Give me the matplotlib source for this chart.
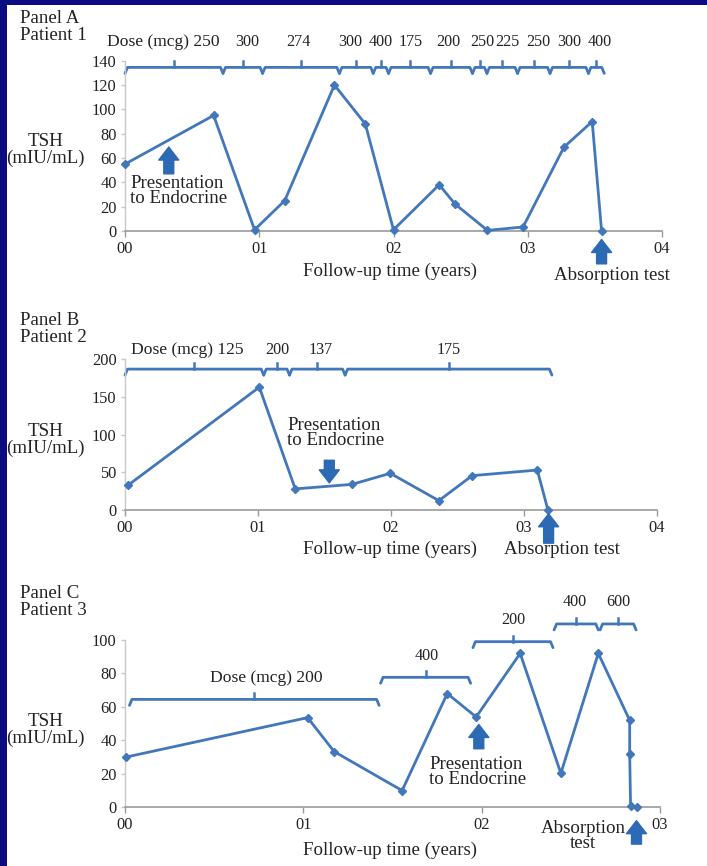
import matplotlib
matplotlib.use("Agg")
import matplotlib.pyplot as plt
from matplotlib.patches import Rectangle

# ---------------- data ----------------
# Panel A (Patient 1)
a_time = [0.0, 0.66, 0.965, 1.19, 1.56, 1.79, 2.0, 2.34, 2.46, 2.70, 2.965, 3.27, 3.48, 3.55]
a_tsh = [55, 95, 1, 25, 120, 88, 1, 38, 22, 0.5, 3.3, 69, 90, 0]
a_dose_bounds = [0.0, 0.73, 1.025, 1.597, 1.849, 1.963, 2.276, 2.588, 2.696, 2.924, 3.166, 3.452, 3.57]
a_doses = ["250", "300", "274", "300", "400", "175", "200", "250", "225", "250", "300", "400"]

# Panel B (Patient 2)
b_time = [0.024, 1.01, 1.28, 1.706, 1.995, 2.36, 2.61, 3.10, 3.18]
b_tsh = [33, 163, 28, 34, 48.7, 12.4, 45.6, 53, 0]
b_dose_bounds = [0.0, 1.043, 1.237, 1.655, 3.21]
b_doses = ["125", "200", "137", "175"]

# Panel C (Patient 3)
c_time = [0.005, 1.024, 1.173, 1.554, 1.807, 1.969, 2.216, 2.444, 2.654, 2.83, 2.83, 2.835, 2.87]
c_tsh = [30, 53.6, 33.3, 10, 68, 54, 92, 20.3, 92, 52, 32, 0.8, 0]
c_dose_start = [0.025, 1.433, 1.951, 2.406, 2.664]
c_dose_end = [1.425, 1.938, 2.40, 2.654, 2.866]
c_dose_level = [64.5, 77.7, 99, 109.6, 109.6]
c_doses = ["200", "400", "200", "400", "600"]

x_ticklabels = ["00", "01", "02", "03", "04"]

# label x-positions (layout, in years)
a_label_x = [0.283, 0.908, 1.294, 1.681, 1.906, 2.124, 2.41, 2.662, 2.847, 3.082, 3.31, 3.536]
b_label_x = [0.47, 1.146, 1.474, 2.43]
c_label_x = [0.79, 1.693, 2.178, 2.52, 2.765]

# ---------------- style ----------------
W, H = 707, 866
BLUE_BG = "#0b0b84"
LINE = "#4277bb"
ARROW = "#2d6ab4"
TXT = "#222222"
FONT = "Liberation Serif"
FS = 13.6
DFS = 11.6     # dose number size
DFS1 = 12.6    # first dose label ("Dose (mcg) ...")
plt.rcParams["font.family"] = [FONT, "DejaVu Serif"]

fig = plt.figure(figsize=(W / 100, H / 100), dpi=100)
fig.patch.set_facecolor(BLUE_BG)
fig.add_artist(Rectangle((7 / W, 0), (W - 7) / W, (H - 5) / H, transform=fig.transFigure,
                         facecolor="white", edgecolor="none", zorder=0))


def px(x, y):
    return x / W, 1 - y / H


def ftext(x, y, s, **kw):
    kw.setdefault("fontsize", FS)
    kw.setdefault("color", TXT)
    fig.text(*px(x, y), s, **kw)


def make_axes(x0, x1, ytop, ybot):
    l, b = x0 / W, 1 - ybot / H
    return fig.add_axes([l, b, (x1 - x0) / W, (ybot - ytop) / H])


def style_axes(ax, xmax, ymax, ystep):
    ax.set_xlim(0, xmax)
    ax.set_ylim(0, ymax)
    ax.set_facecolor("none")
    for s in ["top", "right"]:
        ax.spines[s].set_visible(False)
    ax.spines["bottom"].set_color("#9a9a9a")
    ax.spines["bottom"].set_linewidth(1.2)
    ax.spines["left"].set_color("#c8c8c8")
    ax.spines["left"].set_linewidth(1.0)
    ax.set_xticks(range(0, xmax + 1))
    ax.set_xticklabels(x_ticklabels[: xmax + 1])
    ax.set_yticks(range(0, ymax + 1, ystep))
    ax.tick_params(axis="x", length=4, width=1, color="#9a9a9a", labelsize=11.8, pad=3, labelcolor=TXT)
    ax.tick_params(axis="y", length=3, width=1, color="#c8c8c8", labelsize=11.8, pad=3, labelcolor=TXT)


def unit_px(ax):
    pos = ax.get_position()
    xr = ax.get_xlim()
    yr = ax.get_ylim()
    return (xr[1] - xr[0]) / (pos.width * W), (yr[1] - yr[0]) / (pos.height * H)


def bracket(ax, bounds, level, dip=6, up=6, e=2.5):
    dx, dy = unit_px(ax)
    for b0, b1 in zip(bounds[:-1], bounds[1:]):
        xs = [b0, b0 + e * dx, b1 - e * dx, b1]
        ys = [level - dip * dy, level, level, level - dip * dy]
        ax.plot(xs, ys, color=LINE, lw=2.0, clip_on=False, solid_capstyle="round",
                solid_joinstyle="round")
        m = (b0 + b1) / 2
        ax.plot([m, m], [level, level + up * dy], color=LINE, lw=1.8, clip_on=False)


def dose_labels(ax, xs, doses, y):
    for i, (x, d) in enumerate(zip(xs, doses)):
        if i == 0:
            ax.text(x, y, "Dose (mcg) " + d, ha="center", va="center", fontsize=DFS1,
                    color=TXT, clip_on=False)
        else:
            ax.text(x, y, d, ha="center", va="center", fontsize=DFS, color=TXT, clip_on=False)


def arrow(ax, x, y_from, y_to):
    ax.annotate("", xy=(x, y_to), xytext=(x, y_from), annotation_clip=False,
                arrowprops=dict(arrowstyle="simple,head_length=0.55,head_width=0.85,tail_width=0.42",
                                color=ARROW, mutation_scale=17, shrinkA=0, shrinkB=0))


def series(ax, t, v):
    ax.plot(t, v, color=LINE, lw=2.0, marker="D", markersize=4.2, clip_on=False, zorder=3)


# ---------------- Panel A ----------------
axA = make_axes(125, 662, 60.7, 231)
style_axes(axA, 4, 140, 20)
series(axA, a_time, a_tsh)
bracket(axA, a_dose_bounds, 134.5)
dose_labels(axA, a_label_x, a_doses, 155.5)
arrow(axA, 0.326, 47, 69)
arrow(axA, 3.55, -27, -7)
ftext(130, 191, "Presentation\nto Endocrine", ha="left", va="center", linespacing=0.9)
ftext(612, 276, "Absorption test", ha="center", va="center")
ftext(390, 271, "Follow-up time (years)", ha="center", va="center")
ftext(20, 27, "Panel A\nPatient 1", ha="left", va="center", linespacing=0.98)
ftext(45, 150, "TSH\n(mIU/mL)", ha="center", va="center", linespacing=1.0)

# ---------------- Panel B ----------------
axB = make_axes(125, 657, 359.3, 510)
style_axes(axB, 4, 200, 50)
series(axB, b_time, b_tsh)
bracket(axB, b_dose_bounds, 187)
dose_labels(axB, b_label_x, b_doses, 212)
arrow(axB, 1.536, 66, 36)
arrow(axB, 3.185, -44, -5)
ftext(287, 433, "Presentation\nto Endocrine", ha="left", va="center", linespacing=0.9)
ftext(562, 549, "Absorption test", ha="center", va="center")
ftext(390, 549, "Follow-up time (years)", ha="center", va="center")
ftext(20, 329, "Panel B\nPatient 2", ha="left", va="center", linespacing=0.98)
ftext(45, 440, "TSH\n(mIU/mL)", ha="center", va="center", linespacing=1.0)

# ---------------- Panel C ----------------
axC = make_axes(125, 660, 640, 807.3)
style_axes(axC, 3, 100, 20)
series(axC, c_time, c_tsh)
for i, d in enumerate(c_doses):
    b0, b1 = c_dose_start[i], c_dose_end[i]
    lvl = c_dose_level[i]
    bracket(axC, [b0, b1], lvl, dip=6, up=6)
    axC.text(c_label_x[i], lvl + 13, ("Dose (mcg) " + d) if i == 0 else d, ha="center",
             va="center", fontsize=DFS1 if i == 0 else DFS, color=TXT, clip_on=False)
arrow(axC, 1.984, 35, 49.5)
arrow(axC, 2.868, -22, -8)
ftext(429, 772, "Presentation\nto Endocrine", ha="left", va="center", linespacing=0.9)
ftext(583, 836, "Absorption\ntest", ha="center", va="center", linespacing=0.88)
ftext(390, 850, "Follow-up time (years)", ha="center", va="center")
ftext(20, 602, "Panel C\nPatient 3", ha="left", va="center", linespacing=0.98)
ftext(45, 730, "TSH\n(mIU/mL)", ha="center", va="center", linespacing=1.0)

fig.savefig("out.png", dpi=100, facecolor=fig.get_facecolor())
